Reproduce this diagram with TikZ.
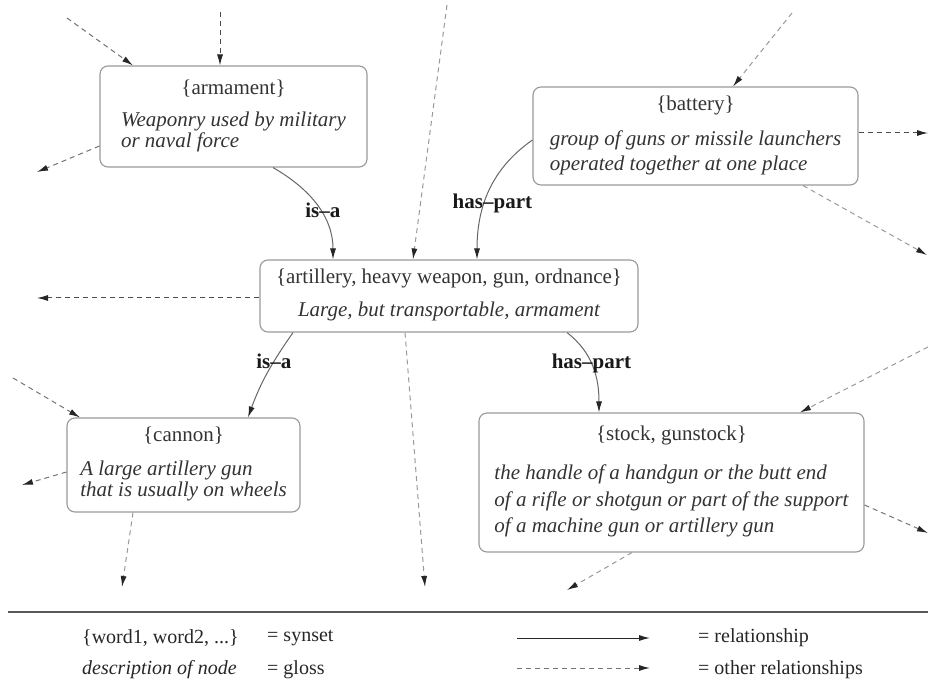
\documentclass[tikz,border=0pt]{standalone}
\usepackage{fontspec}
\setmainfont{Liberation Serif}
\usetikzlibrary{arrows.meta, calc}
\newcommand{\gfont}{\fontsize{21}{21}\selectfont}
\newcommand{\lfont}{\fontsize{20}{20}\selectfont}
\begin{document}
\begin{tikzpicture}[x=1pt, y=1pt,
  synset/.style={draw=black!40, line width=1.1pt, rounded corners=8pt,
    inner sep=0pt, font=\gfont, text=black!80},
  rel/.style={draw=black!60, line width=1pt,
    -{Latex[length=11pt, width=6pt, color=black!85]}},
  other/.style={dash pattern=on 5pt off 4pt, line width=1pt,
    -{Latex[length=11pt, width=6pt, color=black!85]}},
  dk/.style={draw=black!70}, md/.style={draw=black!55}, lt/.style={draw=black!40},
  rlab/.style={font=\gfont\bfseries, text=black!90, inner sep=0pt},
  leg/.style={font=\lfont, anchor=west, inner sep=0pt, text=black!85}]
\useasboundingbox (0,0) rectangle (928,-684);
% synsets
\node[synset, minimum width=267, minimum height=101] (armament) at (233.5,-116.5)
  {\begin{tabular}{@{}l@{}}\multicolumn{1}{@{}c@{}}{\{armament\}}\\[11pt]
   \itshape Weaponry used by military\\ \itshape or naval force\end{tabular}};
\node[synset, minimum width=325, minimum height=98] (battery) at (695.5,-136)
  {\begin{tabular}{@{}l@{}}\multicolumn{1}{@{}c@{}}{\{battery\}}\\[14pt]
   \itshape group of guns or missile launchers\\[4pt] \itshape operated together at one place\end{tabular}};
\node[synset, minimum width=378, minimum height=72] (artillery) at (449,-296)
  {\begin{tabular}{@{}c@{}}\{artillery, heavy weapon, gun, ordnance\}\\[12pt]
   \itshape Large, but transportable, armament\end{tabular}};
\node[synset, minimum width=233, minimum height=94] (cannon) at (183.5,-465)
  {\begin{tabular}{@{}l@{}}\multicolumn{1}{@{}c@{}}{\{cannon\}}\\[13pt]
   \itshape A large artillery gun\\ \itshape that is usually on wheels\end{tabular}};
\node[synset, minimum width=385, minimum height=139] (stock) at (671.5,-482.5)
  {\begin{tabular}{@{}l@{}}\multicolumn{1}{@{}c@{}}{\{stock, gunstock\}}\\[18pt]
   \itshape the handle of a handgun or the butt end\\[5.5pt]
   \itshape of a rifle or shotgun or part of the support\\[5.5pt]
   \itshape of a machine gun or artillery gun\end{tabular}};
% relationships
\draw[rel] ([xshift=39.5pt]armament.south) to[out=-30, in=90]
  node[rlab, pos=0.55, xshift=3pt] {is--a} ([xshift=-116pt]artillery.north);
\draw[rel] ([yshift=-4pt]battery.west) to[out=215, in=90]
  node[rlab, pos=0.6, xshift=8pt] {has--part} ([xshift=28pt]artillery.north);
\draw[rel] ([xshift=-156pt]artillery.south) to[out=235, in=70]
  node[rlab, pos=0.35] {is--a} ([xshift=64.5pt]cannon.north);
\draw[rel] ([xshift=118pt]artillery.south) to[out=-38, in=90]
  node[rlab, pos=0.45] {has--part} ([xshift=-72.5pt]stock.north);
% other relationships
\coordinate (o1) at (67,-18);
\coordinate (o2) at (220,-12);
\coordinate (o3) at (37,-172);
\coordinate (o4) at (447,-5);
\coordinate (o5) at (792,-13);
\coordinate (o6) at (928,-133);
\coordinate (o7) at (927,-255);
\coordinate (o8) at (37,-298);
\coordinate (o9) at (425,-587);
\coordinate (o10) at (928,-347);
\coordinate (o11) at (928,-533);
\coordinate (o12) at (567,-590);
\coordinate (o13) at (13,-378);
\coordinate (o14) at (22,-485);
\coordinate (o15) at (122,-587);
\draw[other, md] (o1) -- ([xshift=-100.5pt]armament.north);
\draw[other, dk] (o2) -- ([xshift=-13.5pt]armament.north);
\draw[other, md] ([yshift=-29.5pt]armament.west) -- (o3);
\draw[other, lt] (o4) -- ([xshift=-36pt]artillery.north);
\draw[other, lt] (o5) -- ([xshift=37.5pt]battery.north);
\draw[other, dk] ([yshift=3pt]battery.east) -- (o6);
\draw[other, lt] ([xshift=107.5pt]battery.south) -- (o7);
\draw[other, dk] ([yshift=-2pt]artillery.west) -- (o8);
\draw[other, lt] ([xshift=-44pt]artillery.south) -- (o9);
\draw[other, lt] (o10) -- ([xshift=128.5pt]stock.north);
\draw[other, md] ([yshift=-22.5pt]stock.east) -- (o11);
\draw[other, lt] ([xshift=-39.5pt]stock.south) -- (o12);
\draw[other, md] (o13) -- ([xshift=-103.5pt]cannon.north);
\draw[other, md] ([yshift=-7pt]cannon.west) -- (o14);
\draw[other, lt] ([xshift=-50.5pt]cannon.south) -- (o15);
% legend
\draw[black!65, line width=1.6pt] (8,-612) -- (928,-612);
\node[leg] (lsyn) at (82,-638) {\{word1, word2, ...\}};
\node[leg] (lsyneq) at (267,-638) {= synset};
\node[leg, font=\lfont\itshape] (lgloss) at (82,-670) {description of node};
\node[leg] (lglosseq) at (267,-670) {= gloss};
\coordinate (lr1) at (517,-638);
\coordinate (lr2) at (650,-638);
\draw[rel, draw=black!85] (lr1) -- (lr2);
\coordinate (lo1) at (517,-668);
\coordinate (lo2) at (650,-668);
\draw[other, md] (lo1) -- (lo2);
\node[leg] (lrel) at (698,-638) {= relationship};
\node[leg] (lother) at (698,-670) {= other relationships};
\end{tikzpicture}
\end{document}
